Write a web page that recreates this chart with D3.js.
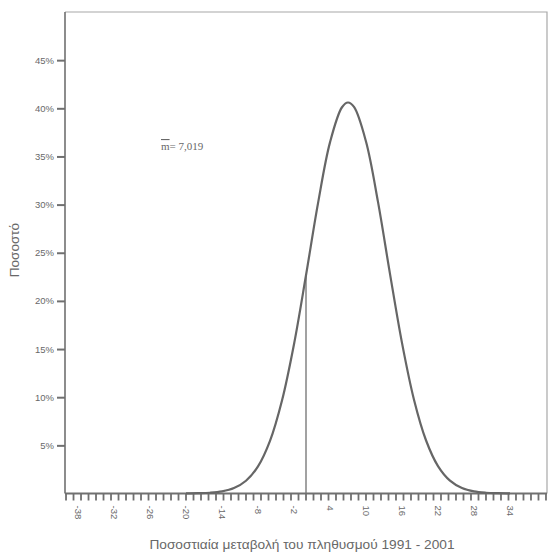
<!DOCTYPE html>
<html>
<head>
<meta charset="utf-8">
<script src="https://cdn.jsdelivr.net/npm/d3@7"></script>
<style>
  html, body { margin: 0; padding: 0; background: #ffffff; }
  svg { display: block; }
</style>
</head>
<body>
<svg id="chart" width="559" height="556"></svg>
<script>
// ---- data ----
const curveX = [-20, -18, -16, -14, -12, -10, -8, -6, -4, -2, 0, 2, 4, 6, 7, 8, 10, 12, 14, 16, 18, 20, 22, 24, 26, 28, 30, 32, 34];
const curveY = [0.01, 0.03, 0.08, 0.22, 0.56, 1.32, 2.81, 5.46, 9.65, 15.5, 22.66, 30.13, 36.46, 40.11, 40.6, 40.14, 36.55, 30.28, 22.81, 15.64, 9.74, 5.53, 2.85, 1.34, 0.57, 0.22, 0.08, 0.03, 0.01];
const markerX = [0];
const markerY = [22.66];
const meanLabel = ["m", "= 7,019"];
const xTickLabels = [-38, -32, -26, -20, -14, -8, -2, 4, 10, 16, 22, 28, 34];
const yTickValues = [5, 10, 15, 20, 25, 30, 35, 40, 45];
const xTitle = "Ποσοστιαία μεταβολή του πληθυσμού 1991 - 2001";
const yTitle = "Ποσοστό";

// ---- drawing ----
(function () {
const svg = d3.select("#chart");
const mLeft = 65, mRight = 547, mTop = 12, mBottom = 493.5;
const x = d3.scaleLinear().domain([-40.17, 40.17]).range([mLeft, mRight]);
const y = d3.scaleLinear().domain([0, 50]).range([mBottom, mTop]);

const grey = "#707070";
const textGrey = "#686868";
const font = "Arial, 'Liberation Sans', sans-serif";

// frame (top & right)
svg.append("path")
  .attr("d", `M${mLeft},${mTop}H${mRight}V${mBottom}`)
  .attr("fill", "none").attr("stroke", "#a8a8a8").attr("stroke-width", 1.2);

// y axis
const yAxis = d3.axisLeft(y).tickValues(yTickValues)
  .tickFormat(d => d + "%").tickSize(8).tickPadding(3);
const gy = svg.append("g").attr("transform", `translate(${mLeft},0)`).call(yAxis);
gy.select(".domain").remove();
gy.append("line").attr("x1", 0).attr("x2", 0).attr("y1", mTop).attr("y2", mBottom)
  .attr("stroke", grey).attr("stroke-width", 1.6);
gy.selectAll(".tick line").attr("stroke", grey).attr("stroke-width", 2);
gy.selectAll(".tick text").attr("fill", textGrey)
  .style("font-family", font).style("font-size", "9.5px");

// x axis: minor ticks
const minorTicks = d3.range(-40, 40.01, 1.25);
const gx = svg.append("g").attr("transform", `translate(0,${mBottom})`);
gx.append("line").attr("x1", mLeft).attr("x2", mRight).attr("y1", 0).attr("y2", 0)
  .attr("stroke", grey).attr("stroke-width", 1.8);
gx.selectAll("line.mt").data(minorTicks).enter().append("line")
  .attr("class", "mt")
  .attr("x1", d => x(d)).attr("x2", d => x(d))
  .attr("y1", 0).attr("y2", 7)
  .attr("stroke", grey).attr("stroke-width", 1.8);

// x tick labels (rotated)
const xAxis = d3.axisBottom(x).tickValues(xTickLabels).tickSize(0).tickFormat(d => d);
const gxl = svg.append("g").attr("transform", `translate(0,${mBottom})`).call(xAxis);
gxl.select(".domain").remove();
gxl.selectAll(".tick text")
  .attr("fill", textGrey)
  .style("font-family", font).style("font-size", "9.5px")
  .attr("transform", "rotate(90)")
  .attr("x", 12).attr("y", 0).attr("dy", "0.32em")
  .attr("text-anchor", "start");

// marker line
svg.selectAll("line.marker").data(markerX).enter().append("line")
  .attr("class", "marker")
  .attr("x1", d => x(d)).attr("x2", d => x(d))
  .attr("y1", y(0)).attr("y2", (d, i) => y(markerY[i]))
  .attr("stroke", grey).attr("stroke-width", 1.3);

// curve
const pts = curveX.map((d, i) => [d, curveY[i]]);
const line = d3.line().x(d => x(d[0])).y(d => y(d[1])).curve(d3.curveCatmullRom);
svg.append("path").datum(pts)
  .attr("d", line)
  .attr("fill", "none").attr("stroke", "#666666").attr("stroke-width", 2.2);

// mean annotation
const ann = svg.append("text")
  .attr("x", 161).attr("y", 150)
  .attr("fill", textGrey)
  .style("font-family", "'Liberation Serif', 'DejaVu Serif', serif").style("font-size", "11px");
ann.append("tspan").style("text-decoration", "overline").text(meanLabel[0]);
ann.append("tspan").text(meanLabel[1]);

// titles
svg.append("text")
  .attr("x", 302).attr("y", 549)
  .attr("text-anchor", "middle")
  .attr("fill", textGrey)
  .style("font-family", font).style("font-size", "13.7px")
  .text(xTitle);

svg.append("text")
  .attr("transform", "translate(19,250) rotate(-90)")
  .attr("text-anchor", "middle")
  .attr("fill", textGrey)
  .style("font-family", font).style("font-size", "13.5px")
  .text(yTitle);
})();
</script>
</body>
</html>
